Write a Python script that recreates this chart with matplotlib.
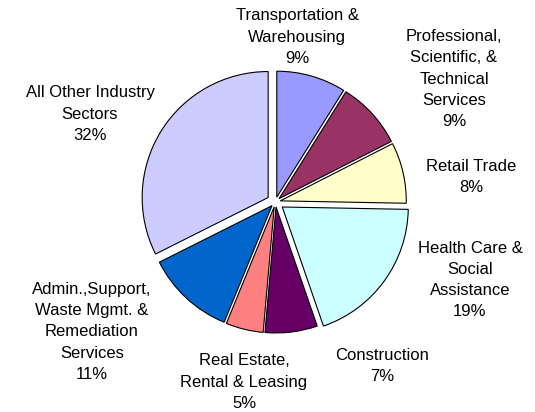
import matplotlib
matplotlib.use("Agg")
import matplotlib.pyplot as plt

# shares by industry sector (percent), clockwise from 12 o'clock
sectors = [
    "Transportation &\nWarehousing",
    "Professional,\nScientific, &\nTechnical\nServices",
    "Retail Trade",
    "Health Care &\nSocial\nAssistance",
    "Construction",
    "Real Estate,\nRental & Leasing",
    "Admin.,Support,\nWaste Mgmt. &\nRemediation\nServices",
    "All Other Industry\nSectors",
]
shares = [8.9, 8.6, 7.8, 19.4, 6.7, 4.8, 11.4, 32.4]
colors = ["#9999FF", "#993366", "#FFFFCC", "#CCFFFF",
          "#660066", "#FF8080", "#0066CC", "#CCCCFF"]

# layout (pixel space, y measured from top)
W, H = 535, 412
cx, cy, R = 275.4, 202.0, 126
explode = [5, 5, 5, 8.5, 5, 5, 5, 8.5]
label_pos = [(297, 37), (454, 79), (471, 177), (470, 280),
             (382, 366), (244, 382), (92, 332), (90, 114)]

plt.rcParams["font.family"] = ["Liberation Sans", "DejaVu Sans"]

fig = plt.figure(figsize=(W / 100, H / 100), dpi=100)
ax = fig.add_axes([0, 0, 1, 1])

ax.pie(shares, colors=colors, explode=explode, radius=R,
       center=(cx, H - cy), startangle=90, counterclock=False,
       wedgeprops=dict(edgecolor="black", linewidth=0.8), frame=True)
ax.set_xlim(0, W)
ax.set_ylim(0, H)
ax.set_aspect("equal")
ax.axis("off")

for name, v, (x, y) in zip(sectors, shares, label_pos):
    ax.text(x, H - y, f"{name}\n{v:.0f}%", ha="center", va="center",
            fontsize=12, linespacing=1.52, color="black")

fig.savefig("out.png", dpi=100)
